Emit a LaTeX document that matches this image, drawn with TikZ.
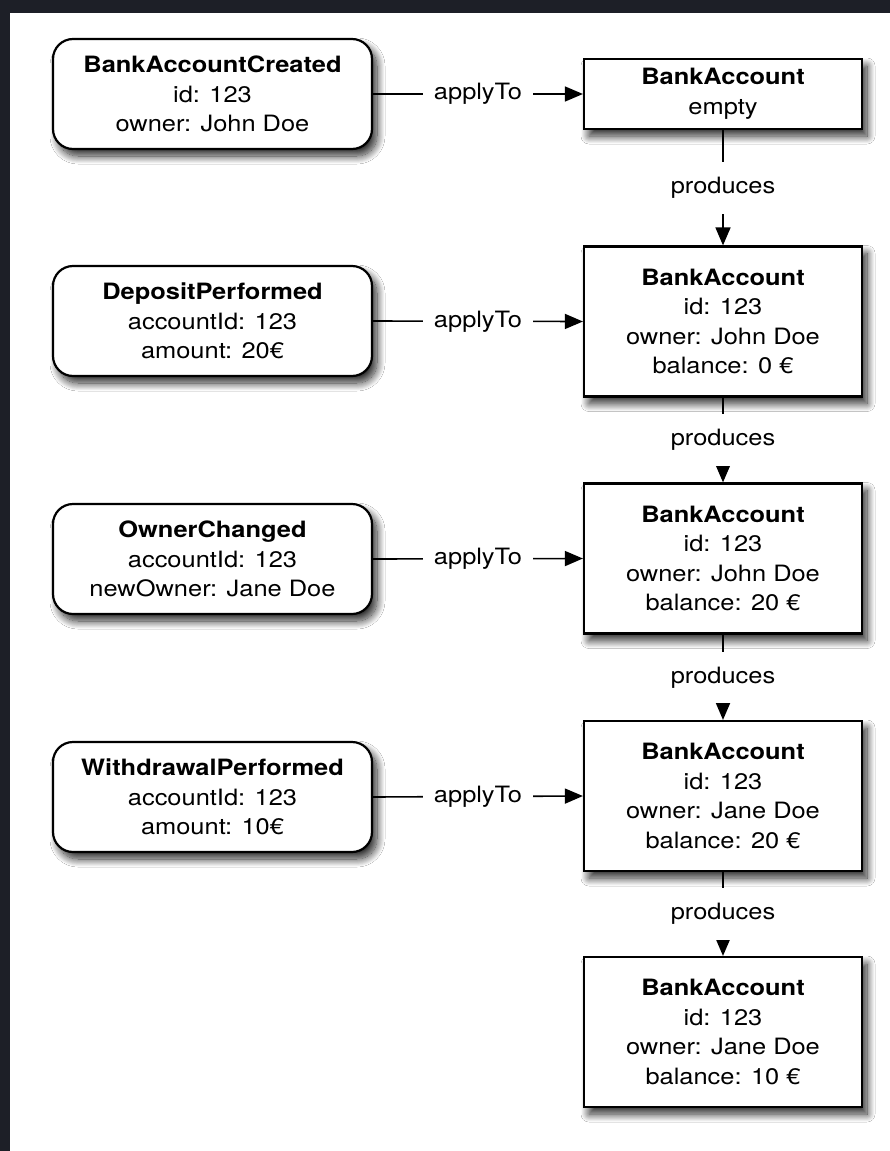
\documentclass[tikz,border=0pt]{standalone}
\usepackage{fontspec}
\setmainfont{TeX Gyre Heros}[FakeStretch=1.13]
\usetikzlibrary{arrows.meta,shadows.blur}
\definecolor{bgdark}{HTML}{1D1F27}
\begin{document}
\begin{tikzpicture}[x=1pt,y=-1pt,
  txt/.style={font=\fontsize{22.5}{29.5}\selectfont, align=center, text=black},
  boxshadow/.style={blur shadow={shadow xshift=5pt, shadow yshift=-7pt, shadow blur radius=8pt, shadow blur steps=16, shadow opacity=85}},
  evt/.style={txt, draw=black, line width=2.2pt, fill=white, rounded corners=20pt,
    minimum width=319pt, minimum height=110pt, inner sep=0pt, boxshadow},
  acct/.style={txt, draw=black, line width=2.2pt, fill=white,
    minimum width=278pt, minimum height=150pt, inner sep=0pt, boxshadow},
  lbl/.style={txt, fill=white, inner xsep=11pt, inner ysep=11pt},
  conn/.style={line width=1.6pt, -{Triangle[length=18pt,width=15pt]}},
]
\useasboundingbox (0,0) rectangle (890,1151);
\fill[bgdark] (0,0) rectangle (890,1151);
\fill[white] (10,13) rectangle (890,1151);

% events
\node[evt] (e1) at (212.5,94)  {\textbf{BankAccountCreated}\\id: 123\\owner: John Doe};
\node[evt] (e2) at (212.5,321) {\textbf{DepositPerformed}\\accountId: 123\\amount: 20€};
\node[evt] (e3) at (212.5,559) {\textbf{OwnerChanged}\\accountId: 123\\newOwner: Jane Doe};
\node[evt] (e4) at (212.5,797) {\textbf{WithdrawalPerformed}\\accountId: 123\\amount: 10€};

% accounts
\node[acct, minimum height=70pt] (a0) at (723,94) {\textbf{BankAccount}\\empty};
\node[acct] (a1) at (723,321.5) {\textbf{BankAccount}\\id: 123\\owner: John Doe\\balance: 0 €};
\node[acct] (a2) at (723,558.5) {\textbf{BankAccount}\\id: 123\\owner: John Doe\\balance: 20 €};
\node[acct] (a3) at (723,796) {\textbf{BankAccount}\\id: 123\\owner: Jane Doe\\balance: 20 €};
\node[acct] (a4) at (723,1032) {\textbf{BankAccount}\\id: 123\\owner: Jane Doe\\balance: 10 €};

% applyTo
\draw[conn] (e1.east) -- node[lbl] {\strut applyTo} (a0.west);
\draw[conn] (e2.east) -- node[lbl] {\strut applyTo} (a1.west);
\draw[conn] (e3.east) -- node[lbl] {\strut applyTo} (a2.west);
\draw[conn] (e4.east) -- node[lbl] {\strut applyTo} (a3.west);

% produces
\draw[conn] (a0.south) -- node[lbl] {\strut produces} (a1.north);
\draw[conn] (a1.south) -- node[lbl] {\strut produces} (a2.north);
\draw[conn] (a2.south) -- node[lbl] {\strut produces} (a3.north);
\draw[conn] (a3.south) -- node[lbl] {\strut produces} (a4.north);
\end{tikzpicture}
\end{document}
